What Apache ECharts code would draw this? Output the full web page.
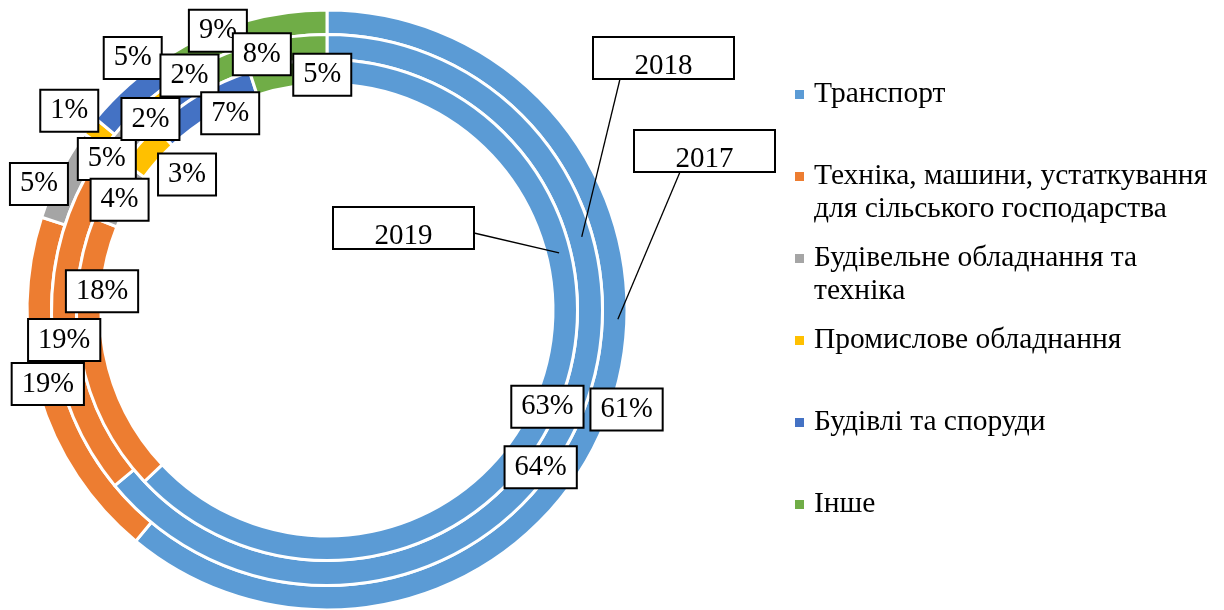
<!DOCTYPE html>
<html>
<head>
<meta charset="utf-8">
<script src="https://cdn.jsdelivr.net/npm/echarts@6/dist/echarts.min.js"></script>
<style>
  html, body { margin: 0; padding: 0; background: #fff; }
  #chart { width: 1224px; height: 610px; }
</style>
</head>
<body>
<div id="chart"></div>
<script>
// --- data ---
const categories = [
    'Транспорт',
    'Техніка, машини, устаткування для сільського господарства',
    'Будівельне обладнання та техніка',
    'Промислове обладнання',
    'Будівлі та споруди',
    'Інше'
];
const years = ['2017', '2018', '2019'];
const share2017 = [61, 19, 5, 1, 5, 9];
const share2018 = [64, 19, 5, 2, 2, 8];
const share2019 = [63, 18, 4, 3, 7, 5];

// --- styles ---
const colors = ['#5B9BD5', '#ED7D31', '#A5A5A5', '#FFC000', '#4472C4', '#70AD47'];
const FONT = 'Liberation Serif';
const CX = 327, CY = 310;

// outer ring = 2017, middle = 2018, inner = 2019
// offsets: label shifts from the default segment centre (labels were dragged in the original)
const rings = [
    { year: '2017', values: share2017, radius: [275.5, 300],
      offsets: [[26, 1], [0, -7], [-29, 6], [-28, -21], [-2, -34], [-28, 0]] },
    { year: '2018', values: share2018, radius: [250.5, 275.5],
      offsets: [[-27, 44], [2, 5], [-10, 12], [-7, 14], [5, -10], [1, 2]] },
    { year: '2019', values: share2019, radius: [226, 250.5],
      offsets: [[-1, 1], [12, -64], [4, 6], [41, 24], [26, 11], [33, 3]] }
];

// year callouts: box position + point on the ring (radius, angle clockwise from 12 o'clock)
const callouts = [
    { text: years[0], box: [634, 130], from: [680, 172], ringR: 291, angle: 91.8 },
    { text: years[1], box: [593, 37], from: [620, 79], ringR: 265, angle: 74 },
    { text: years[2], box: [333, 207], from: [474, 233], ringR: 239, angle: 76.2 }
];
const BOX_W = 141, BOX_H = 42;

const legendLines = {
    'Техніка, машини, устаткування для сільського господарства': 'Техніка, машини, устаткування\nдля сільського господарства',
    'Будівельне обладнання та техніка': 'Будівельне обладнання та\nтехніка'
};

function polar(r, deg) {
    const a = deg * Math.PI / 180;
    return [CX + r * Math.sin(a), CY - r * Math.cos(a)];
}

const chart = echarts.init(document.getElementById('chart'));

const series = rings.map(ring => ({
    type: 'pie',
    name: ring.year,
    center: [CX, CY],
    radius: ring.radius,
    startAngle: 90,
    clockwise: true,
    avoidLabelOverlap: false,
    silent: true,
    itemStyle: { borderColor: '#fff', borderWidth: 3 },
    label: {
        show: true,
        position: 'inside',
        formatter: '{c}%',
        fontFamily: FONT,
        fontSize: 28.5,
        color: '#000',
        textBorderWidth: 0,
        backgroundColor: '#fff',
        borderColor: '#000',
        borderWidth: 2,
        lineHeight: 30,
        padding: [6, 9, 4, 9]
    },
    labelLine: { show: false },
    labelLayout: params => {
        const o = ring.offsets[params.dataIndex];
        return { dx: o[0], dy: o[1] };
    },
    data: categories.map((name, i) => ({
        name,
        value: ring.values[i],
        itemStyle: { color: colors[i] }
    }))
}));

const graphics = [];
callouts.forEach(c => {
    const end = polar(c.ringR, c.angle);
    graphics.push({
        type: 'line', z: 50,
        shape: { x1: c.from[0], y1: c.from[1], x2: end[0], y2: end[1] },
        style: { stroke: '#000', lineWidth: 1.3 }
    });
    graphics.push({
        type: 'rect', z: 51,
        shape: { x: c.box[0], y: c.box[1], width: BOX_W, height: BOX_H },
        style: { fill: '#fff', stroke: '#000', lineWidth: 2 }
    });
    graphics.push({
        type: 'text', z: 52,
        x: c.box[0] + BOX_W / 2, y: c.box[1] + BOX_H / 2 + 8,
        style: { text: c.text, font: '29px "' + FONT + '"', fill: '#000', align: 'center', verticalAlign: 'middle' }
    });
});

chart.setOption({
    backgroundColor: '#fff',
    animation: false,
    legend: {
        orient: 'vertical',
        left: 793,
        top: 45,
        padding: 0,
        icon: 'rect',
        itemWidth: 11,
        itemHeight: 11,
        itemGap: -17,
        selectedMode: false,
        // two-line names get an empty first line so the marker sits on the first text line
        formatter: name => legendLines[name] ? '\n' + legendLines[name] : name,
        textStyle: { fontFamily: FONT, fontSize: 29.5, color: '#000', lineHeight: 33 },
        data: categories.map(name => ({
            name,
            textStyle: { padding: legendLines[name] ? [0, 0, 0, 4] : [33, 0, 33, 4] }
        }))
    },
    series,
    graphic: graphics
});
</script>
</body>
</html>
